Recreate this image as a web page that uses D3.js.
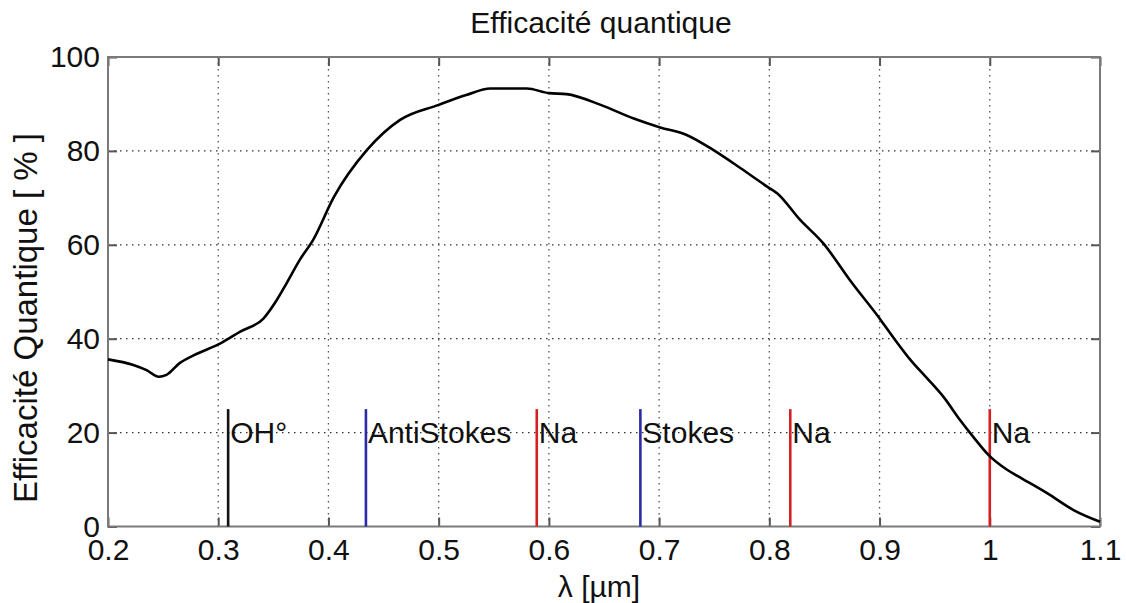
<!DOCTYPE html>
<html>
<head>
<meta charset="utf-8">
<script src="https://cdn.jsdelivr.net/npm/d3@7"></script>
<style>
  html, body { margin: 0; padding: 0; background: #fff; }
  svg { display: block; font-family: "Liberation Sans", Arial, Helvetica, sans-serif; }
</style>
</head>
<body>
<svg id="chart" width="1126" height="603"></svg>
<script>
// Quantum efficiency curve: wavelength (µm) and efficiency (%)
const wavelength = [0.200, 0.223, 0.235, 0.246, 0.253, 0.265, 0.278, 0.302, 0.320, 0.341,
  0.353, 0.362, 0.374, 0.386, 0.405, 0.435, 0.465, 0.500, 0.525, 0.547,
  0.580, 0.600, 0.616, 0.647, 0.677, 0.701, 0.725, 0.749, 0.774, 0.798,
  0.807, 0.828, 0.849, 0.873, 0.901, 0.913, 0.928, 0.943, 0.958, 0.973,
  0.985, 0.999, 1.015, 1.025, 1.052, 1.076, 1.100];
const efficiency = [35.6, 34.4, 33.3, 31.9, 32.3, 34.8, 36.5, 39.0, 41.5, 44.3,
  48.2, 51.8, 56.8, 61.0, 70.2, 80.2, 86.6, 89.8, 91.9, 93.3,
  93.3, 92.3, 92.1, 89.8, 86.9, 85.0, 83.4, 80.2, 76.3, 72.4,
  71.0, 65.3, 60.3, 52.5, 44.0, 40.1, 35.5, 31.6, 27.6, 22.7,
  19.1, 15.2, 12.2, 10.8, 7.1, 3.5, 1.0];

// Emission lines marked on the plot
const lineNames = ["OH°", "AntiStokes", "Na", "Stokes", "Na", "Na"];
const linePositions = [0.309, 0.434, 0.589, 0.683, 0.819, 1.0];
const lineColors = ["#111111", "#2a2aa8", "#d42020", "#2a2aa8", "#d42020", "#d42020"];
const lineHeight = 25;

// Tick values
const xTicks = [0.2, 0.3, 0.4, 0.5, 0.6, 0.7, 0.8, 0.9, 1.0, 1.1];
const yTicks = [0, 20, 40, 60, 80, 100];

const svg = d3.select("#chart");
const plotLeft = 108, plotRight = 1100, plotTop = 57, plotBottom = 526.5;

const x = d3.scaleLinear().domain([0.2, 1.1]).range([plotLeft, plotRight]);
const y = d3.scaleLinear().domain([0, 100]).range([plotBottom, plotTop]);

// Grid
const grid = svg.append("g");
grid.selectAll("line.vx").data(xTicks.slice(1, -1)).join("line")
  .attr("x1", d => x(d)).attr("x2", d => x(d))
  .attr("y1", plotTop).attr("y2", plotBottom)
  .attr("stroke", "#555").attr("stroke-width", 1.3)
  .attr("stroke-dasharray", "1.5,4.5");
grid.selectAll("line.hy").data(yTicks.slice(1, -1)).join("line")
  .attr("x1", plotLeft).attr("x2", plotRight)
  .attr("y1", d => y(d)).attr("y2", d => y(d))
  .attr("stroke", "#333").attr("stroke-width", 1.3)
  .attr("stroke-dasharray", "1.5,4.5");

// Axes (ticks pointing inward, box on all sides)
const tickLen = 9;
const fmt = d => d3.format("~g")(d);
svg.append("g").attr("transform", `translate(0,${plotBottom})`)
  .call(d3.axisBottom(x).tickValues(xTicks).tickFormat(fmt).tickSizeInner(-tickLen).tickSizeOuter(0).tickPadding(12))
  .call(g => g.select(".domain").remove())
  .call(g => g.selectAll("text").attr("font-size", 30).attr("fill", "#111").attr("font-family", "Liberation Sans, Arial, sans-serif"));
svg.append("g").attr("transform", `translate(0,${plotTop})`)
  .call(d3.axisTop(x).tickValues(xTicks).tickFormat("").tickSizeInner(-tickLen).tickSizeOuter(0))
  .call(g => g.select(".domain").remove());
svg.append("g").attr("transform", `translate(${plotLeft},0)`)
  .call(d3.axisLeft(y).tickValues(yTicks).tickFormat(fmt).tickSizeInner(-tickLen).tickSizeOuter(0).tickPadding(8))
  .call(g => g.select(".domain").remove())
  .call(g => g.selectAll("text").attr("font-size", 30).attr("fill", "#111").attr("font-family", "Liberation Sans, Arial, sans-serif"));
svg.append("g").attr("transform", `translate(${plotRight},0)`)
  .call(d3.axisRight(y).tickValues(yTicks).tickFormat("").tickSizeInner(-tickLen).tickSizeOuter(0))
  .call(g => g.select(".domain").remove());
svg.selectAll(".tick line").attr("stroke", "#555").attr("stroke-width", 2);

svg.append("rect")
  .attr("x", plotLeft).attr("y", plotTop)
  .attr("width", plotRight - plotLeft).attr("height", plotBottom - plotTop)
  .attr("fill", "none").attr("stroke", "#7a7a7a").attr("stroke-width", 2);

// Emission lines and their labels
const marks = svg.append("g");
lineNames.forEach((name, i) => {
  const px = x(linePositions[i]);
  marks.append("line")
    .attr("x1", px).attr("x2", px)
    .attr("y1", y(0)).attr("y2", y(lineHeight))
    .attr("stroke", lineColors[i]).attr("stroke-width", 2.6);
  marks.append("text")
    .attr("x", px + 2).attr("y", y(20)).attr("dy", "0.36em")
    .attr("font-size", 30).attr("fill", "#111")
    .text(name);
});

// Efficiency curve
const data = wavelength.map((w, i) => [w, efficiency[i]]);
svg.append("path")
  .datum(data)
  .attr("fill", "none").attr("stroke", "#000").attr("stroke-width", 2.6)
  .attr("stroke-linejoin", "round")
  .attr("d", d3.line().x(d => x(d[0])).y(d => y(d[1])).curve(d3.curveMonotoneX));

// Titles
svg.append("text")
  .attr("x", (plotLeft + plotRight) / 2 - 3).attr("y", 33)
  .attr("text-anchor", "middle").attr("font-size", 30).attr("fill", "#111")
  .text("Efficacité quantique");
svg.append("text")
  .attr("x", (plotLeft + plotRight) / 2 - 5).attr("y", 597)
  .attr("text-anchor", "middle").attr("font-size", 30).attr("fill", "#111")
  .text("λ [µm]");
svg.append("text")
  .attr("transform", "translate(37,318) rotate(-90)")
  .attr("text-anchor", "middle").attr("font-size", 33).attr("fill", "#111")
  .text("Efficacité Quantique [ % ]");
</script>
</body>
</html>
